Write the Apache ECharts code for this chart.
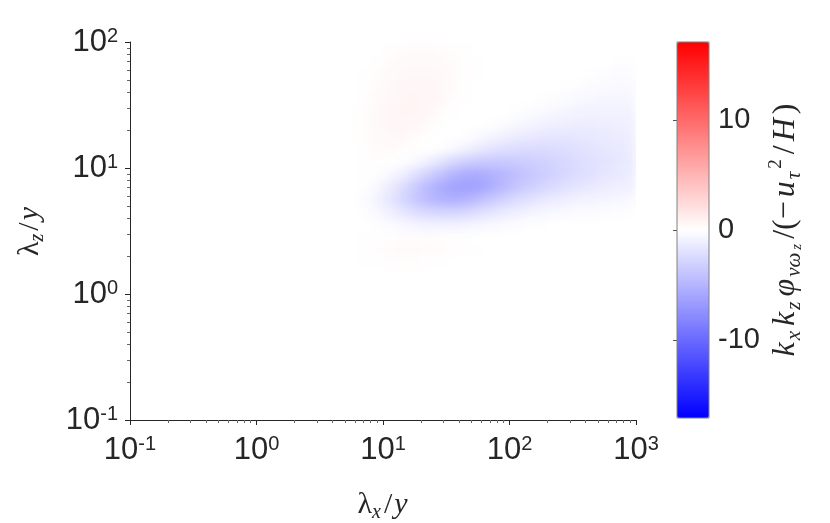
<!DOCTYPE html>
<html><head><meta charset="utf-8">
<script src="https://cdn.jsdelivr.net/npm/echarts@6/dist/echarts.min.js"></script>
<style>
html,body{margin:0;padding:0;background:#fff}
#wrap{position:relative;width:830px;height:523px}
#heat,#main{position:absolute;left:0;top:0;width:830px;height:523px}
#heat{filter:blur(5px);clip-path:inset(42px 194px 103px 130px)}
</style>
</head><body><div id="wrap"><div id="heat"></div><div id="main"></div></div><script>
// cell centres, log10(lambda_x / y) and log10(lambda_z / y)
const logLambdaX = [0.85,0.95,1.05,1.15,1.25,1.35,1.45,1.55,1.65,1.75,1.85,1.95,2.05,2.15,2.25,2.35,2.45,2.55,2.65,2.75,2.85,2.95];
const logLambdaZ = [1.95,1.85,1.75,1.65,1.55,1.45,1.35,1.25,1.15,1.05,0.95,0.85,0.75,0.65,0.55,0.45,0.35,0.25];
// premultiplied spectrum values, one row per lambda_z
const row195 = [0,0,0.1,0.2,0.25,0.25,0.2,0.15,0.05,0,0,0,0,0,0,0,0,0,0,0,0,0];
const row185 = [0,0.1,0.25,0.35,0.4,0.4,0.35,0.25,0.15,0.05,0,0,0,0,0,0,0,0,0,0,-0.05,-0.05];
const row175 = [0.05,0.2,0.35,0.45,0.5,0.5,0.45,0.3,0.15,0.05,0,0,0,0,0,0,0,0,-0.05,-0.15,-0.2,-0.2];
const row165 = [0.1,0.3,0.45,0.55,0.6,0.6,0.5,0.3,0.1,0,0,0,0,0,0,0,-0.05,-0.15,-0.3,-0.35,-0.4,-0.4];
const row155 = [0.15,0.35,0.5,0.6,0.65,0.6,0.45,0.2,0.05,0,0,0,0,0,-0.05,-0.15,-0.3,-0.45,-0.55,-0.6,-0.6,-0.6];
const row145 = [0.2,0.4,0.55,0.65,0.65,0.55,0.3,0.1,0,0,0,0,-0.05,-0.2,-0.35,-0.55,-0.7,-0.8,-0.85,-0.85,-0.85,-0.8];
const row135 = [0.2,0.4,0.55,0.6,0.55,0.35,0.1,0,0,0,-0.05,-0.2,-0.45,-0.65,-0.85,-1.0,-1.15,-1.2,-1.2,-1.15,-1.1,-1.0];
const row125 = [0.2,0.35,0.45,0.45,0.3,0.1,0,0,-0.1,-0.35,-0.7,-1.0,-1.3,-1.5,-1.6,-1.65,-1.65,-1.6,-1.5,-1.4,-1.3,-1.2];
const row115 = [0.15,0.25,0.3,0.2,0.05,0,-0.1,-0.4,-0.9,-1.4,-1.8,-2.1,-2.3,-2.4,-2.4,-2.35,-2.2,-2.0,-1.8,-1.6,-1.45,-1.3];
const row105 = [0.1,0.15,0.1,-0.1,-0.4,-1.0,-1.8,-2.6,-3.2,-3.5,-3.6,-3.6,-3.5,-3.3,-3.1,-2.9,-2.6,-2.3,-2.0,-1.8,-1.6,-1.4];
const row095 = [0.05,-0.1,-0.4,-1.0,-2.0,-3.0,-4.0,-4.9,-5.5,-5.6,-5.3,-4.8,-4.3,-3.8,-3.4,-3.0,-2.6,-2.3,-2.0,-1.7,-1.5,-1.3];
const row085 = [-0.1,-0.5,-1.3,-2.3,-3.4,-4.6,-5.5,-6.2,-6.4,-6.2,-5.5,-4.7,-3.9,-3.3,-2.8,-2.4,-2.0,-1.7,-1.5,-1.3,-1.1,-1.0];
const row075 = [-0.2,-0.8,-1.6,-2.6,-3.6,-4.5,-5.1,-5.3,-5.0,-4.4,-3.7,-3.0,-2.4,-2.0,-1.6,-1.3,-1.1,-0.9,-0.8,-0.7,-0.6,-0.5];
const row065 = [-0.15,-0.5,-1.0,-1.6,-2.2,-2.6,-2.8,-2.8,-2.6,-2.2,-1.8,-1.4,-1.1,-0.8,-0.6,-0.5,-0.4,-0.3,-0.25,-0.2,-0.15,-0.1];
const row055 = [0,-0.1,-0.3,-0.5,-0.7,-0.9,-0.9,-0.9,-0.8,-0.6,-0.5,-0.35,-0.2,-0.1,-0.05,0,0,0,0,0,0,0];
const row045 = [0.05,0.1,0.15,0.2,0.2,0.2,0.15,0.1,0.05,0,0,0,0,0,0,0,0,0,0,0,0,0];
const row035 = [0.1,0.2,0.3,0.35,0.35,0.3,0.25,0.15,0.1,0.05,0,0,0,0,0,0,0,0,0,0,0,0];
const row025 = [0.05,0.1,0.15,0.15,0.15,0.1,0.05,0,0,0,0,0,0,0,0,0,0,0,0,0,0,0];
const phiRows = [row195,row185,row175,row165,row155,row145,row135,row125,row115,row105,row095,row085,row075,row065,row055,row045,row035,row025];

const xTicks = [0.1, 1, 10, 100, 1000];
const yTicks = [0.1, 1, 10, 100];
const minorMantissa = [2,3,4,5,6,7,8,9];
const cbTicks = [-10, 0, 10];
const cbRange = [-17.1, 17.1];
const cmap = ['#0000ff', '#ffffff', '#ff0000'];
const cellHalf = 0.05;

const cells = [];
phiRows.forEach((row, i) => row.forEach((v, j) => {
  cells.push([Math.pow(10, logLambdaX[j]), Math.pow(10, logLambdaZ[i]), v]);
}));
function minors(ticks){
  const out = [];
  ticks.slice(0, -1).forEach(t => minorMantissa.forEach(m => out.push(t * m)));
  return out;
}
const xMinor = minors(xTicks), yMinor = minors(yTicks);

const txt = '#262626';
const plotGrid = {left: 130, top: 42, width: 506, height: 378, outerBoundsMode: 'none', containLabel: false};
const sansRich = {
  b: {fontFamily: 'Liberation Sans', fontSize: 31, color: txt, lineHeight: 32},
  e: {fontFamily: 'Liberation Sans', fontSize: 20, color: txt, verticalAlign: 'top', lineHeight: 18}
};
function powLabel(v){
  const e = Math.round(Math.log10(v));
  return '{b|10}{e|' + e + '}';
}
const serif = 'Liberation Serif';
function mathStyles(big, small, pad){
  return {
    l: {fontFamily: serif, fontSize: big, color: txt, lineHeight: big + 6},
    i: {fontFamily: serif, fontStyle: 'italic', fontSize: big, color: txt, lineHeight: big + 6, padding: [0, pad]},
    n: {fontFamily: serif, fontSize: big, color: txt, lineHeight: big + 6, padding: [0, pad]},
    s: {fontFamily: serif, fontStyle: 'italic', fontSize: small, color: txt, lineHeight: small + 2, verticalAlign: 'bottom', padding: [0, pad + 1, 0, 0]},
    ss: {fontFamily: serif, fontStyle: 'italic', fontSize: small - 6, color: txt, lineHeight: small - 6, verticalAlign: 'bottom', padding: [0, pad + 1, 0, 0]},
    sup: {fontFamily: serif, fontSize: small - 2, color: txt, lineHeight: small, verticalAlign: 'top', padding: [0, pad + 1, 0, 0]}
  };
}
const mathRich = mathStyles(30, 20, 1);
const cbRich = mathStyles(32, 21, 2);

function renderItem(params, api){
  const lx = Math.log10(api.value(0)), ly = Math.log10(api.value(1));
  const p0 = api.coord([Math.pow(10, lx - cellHalf), Math.pow(10, ly + cellHalf)]);
  const p1 = api.coord([Math.pow(10, lx + cellHalf), Math.pow(10, ly - cellHalf)]);
  return {
    type: 'rect',
    shape: {x: p0[0], y: p0[1], width: p1[0] - p0[0] + 0.7, height: p1[1] - p0[1] + 0.7},
    style: {fill: api.visual('color')}
  };
}

// layer 1: the spectrum field (smoothed shading like the original's interpolated fill)
const heat = echarts.init(document.getElementById('heat'), null, {renderer: 'canvas'});
heat.setOption({
  animation: false,
  backgroundColor: '#fff',
  grid: [plotGrid],
  xAxis: [{type: 'log', logBase: 10, min: 0.1, max: 1000, show: false}],
  yAxis: [{type: 'log', logBase: 10, min: 0.1, max: 100, show: false}],
  visualMap: {type: 'continuous', show: false, min: cbRange[0], max: cbRange[1], dimension: 2, seriesIndex: 0, inRange: {color: cmap}},
  series: [{type: 'custom', coordinateSystem: 'cartesian2d', renderItem: renderItem, data: cells, clip: true, silent: true}]
});

// layer 2: axes, colorbar and labels
const chart = echarts.init(document.getElementById('main'), null, {renderer: 'canvas'});
chart.setOption({
  animation: false,
  backgroundColor: 'transparent',
  grid: [
    plotGrid,
    {left: 677, top: 42, width: 32, height: 376, show: true, borderColor: '#808080', borderWidth: 1, backgroundColor: 'rgba(0,0,0,0)', z: 10, outerBoundsMode: 'none', containLabel: false}
  ],
  xAxis: [
    {type: 'log', logBase: 10, gridIndex: 0, position: 'bottom', min: 0.1, max: 1000,
     axisLine: {show: true, onZero: false, lineStyle: {color: txt, width: 1}},
     axisTick: {show: true, inside: false, length: 5, customValues: xTicks, lineStyle: {color: txt}},
     axisLabel: {customValues: xTicks, formatter: powLabel, rich: sansRich, margin: 14},
     splitLine: {show: false},
     name: '{l|λ}{s|x}{n|/}{i|y}', nameLocation: 'middle', nameGap: 67,
     nameTextStyle: {rich: mathRich}},
    {type: 'log', logBase: 10, gridIndex: 0, position: 'bottom', min: 0.1, max: 1000,
     axisLine: {show: false}, splitLine: {show: false}, axisLabel: {show: false},
     axisTick: {show: true, inside: false, length: 3, customValues: xMinor, lineStyle: {color: '#666'}}},
    {type: 'value', gridIndex: 1, show: false, min: 0, max: 1}
  ],
  yAxis: [
    {type: 'log', logBase: 10, gridIndex: 0, position: 'left', min: 0.1, max: 100,
     axisLine: {show: true, onZero: false, lineStyle: {color: txt, width: 1}},
     axisTick: {show: true, inside: false, length: 5, customValues: yTicks, lineStyle: {color: txt}},
     axisLabel: {customValues: yTicks, formatter: powLabel, rich: sansRich, margin: 12},
     splitLine: {show: false},
     name: '{l|λ}{s|z}{n|/}{i|y}', nameLocation: 'middle', nameGap: 82, nameRotate: 90,
     nameTextStyle: {rich: mathRich}},
    {type: 'log', logBase: 10, gridIndex: 0, position: 'left', min: 0.1, max: 100,
     axisLine: {show: false}, splitLine: {show: false}, axisLabel: {show: false},
     axisTick: {show: true, inside: false, length: 3, customValues: yMinor, lineStyle: {color: '#666'}}},
    {type: 'value', gridIndex: 1, position: 'right', min: cbRange[0], max: cbRange[1],
     axisLine: {show: false}, splitLine: {show: false},
     axisTick: {show: true, inside: true, length: 4, customValues: cbTicks, lineStyle: {color: '#555'}},
     axisLabel: {customValues: cbTicks, fontFamily: 'Liberation Sans', fontSize: 29, color: txt, margin: 9},
     name: '{i|k}{s|x}{i|k}{s|z}{i|φ}{s|vω}{ss|z}{n|/(−}{i|u}{s|τ}{sup|2}{n|/}{i|H}{n|)}',
     nameLocation: 'middle', nameGap: 58, nameRotate: 90,
     nameTextStyle: {rich: cbRich}}
  ],
  visualMap: {
    type: 'continuous', min: cbRange[0], max: cbRange[1], dimension: 2, seriesIndex: 0,
    inRange: {color: cmap},
    calculable: false, hoverLink: false, orient: 'vertical',
    left: 677, top: 42, itemWidth: 32, itemHeight: 376, padding: 0, text: null
  },
  series: [{
    type: 'custom', coordinateSystem: 'cartesian2d', xAxisIndex: 0, yAxisIndex: 0,
    renderItem: renderItem, data: [], silent: true
  }]
});
</script></body></html>
